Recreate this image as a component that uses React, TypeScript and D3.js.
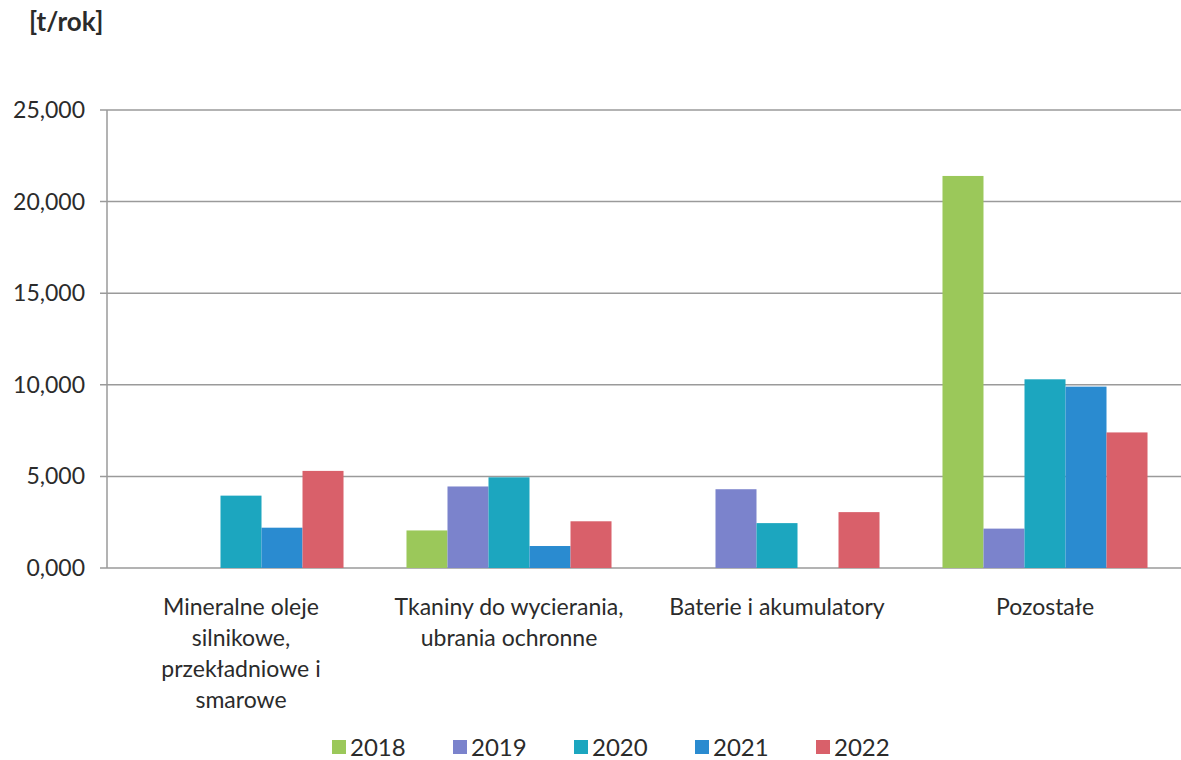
import React from "react";
import * as d3 from "d3";

const categories = [
  ["Mineralne oleje", "silnikowe,", "przekładniowe i", "smarowe"],
  ["Tkaniny do wycierania,", "ubrania ochronne"],
  ["Baterie i akumulatory"],
  ["Pozostałe"],
];
const seriesNames = ["2018", "2019", "2020", "2021", "2022"];
const seriesColors = ["#9BC85A", "#7B83CC", "#1CA6BF", "#2A8BD0", "#D9606A"];
const values2018 = [0, 2050, 0, 21400];
const values2019 = [0, 4450, 4300, 2150];
const values2020 = [3950, 4950, 2450, 10300];
const values2021 = [2200, 1200, 0, 9900];
const values2022 = [5300, 2550, 3050, 7400];
const seriesValues = [values2018, values2019, values2020, values2021, values2022];
const yTicks = [0, 5000, 10000, 15000, 20000, 25000];
const yTickLabels = ["0,000", "5,000", "10,000", "15,000", "20,000", "25,000"];
const unitLabel = "[t/rok]";

const W = 1181;
const H = 760;
const FONT = "Lato, 'Open Sans', sans-serif";
const TEXT = "#2b2b2b";

export default function App() {
  const x = d3.scaleBand<number>().domain(d3.range(categories.length)).range([107, 1179]).paddingInner(0.235).paddingOuter(0.1175);
  const xs = d3.scaleBand<number>().domain(d3.range(seriesNames.length)).range([0, x.bandwidth()]);
  const y = d3.scaleLinear().domain([0, 25000]).range([568, 110]);

  return (
    <svg width={W} height={H} style={{ position: "absolute", left: 0, top: 0, background: "#fff" }}>
      <text x={29} y={31} fontFamily={FONT} fontSize={26} fontWeight="bold" fill={TEXT}>{unitLabel}</text>
      {yTicks.map((t, i) => (
        <g key={t}>
          <line x1={100} x2={1181} y1={y(t)} y2={y(t)} stroke="#9a9a9a" strokeWidth={1.5} />
          <text x={85} y={y(t) + 8} textAnchor="end" fontFamily={FONT} fontSize={23} fill={TEXT}>{yTickLabels[i]}</text>
        </g>
      ))}
      <line x1={107} x2={107} y1={y(25000)} y2={y(0)} stroke="#9a9a9a" strokeWidth={1.5} />
      {seriesValues.map((vals, s) =>
        vals.map((v, c) =>
          v > 0 ? (
            <rect key={`${s}-${c}`} x={(x(c) as number) + (xs(s) as number)} y={y(v)} width={xs.bandwidth()} height={y(0) - y(v)} fill={seriesColors[s]} />
          ) : null
        )
      )}
      {categories.map((lines, c) => (
        <text key={c} textAnchor="middle" fontFamily={FONT} fontSize={23} fill={TEXT}>
          {lines.map((ln, i) => (
            <tspan key={i} x={(x(c) as number) + x.bandwidth() / 2} y={615 + i * 31}>{ln}</tspan>
          ))}
        </text>
      ))}
      {seriesNames.map((n, s) => (
        <g key={n} transform={`translate(${332 + s * 121},0)`}>
          <rect x={0} y={740} width={14} height={14} fill={seriesColors[s]} />
          <text x={18} y={756} fontFamily={FONT} fontSize={24} fill={TEXT}>{n}</text>
        </g>
      ))}
    </svg>
  );
}
